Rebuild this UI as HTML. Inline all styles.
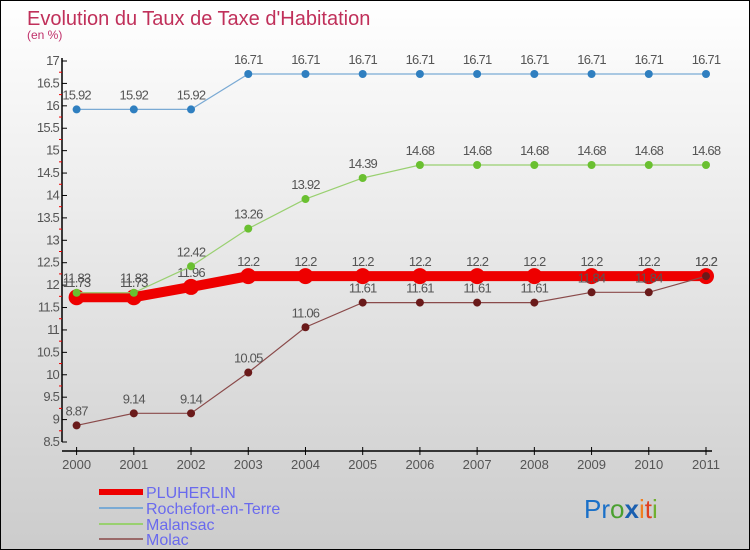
<!DOCTYPE html>
<html><head><meta charset="utf-8"><style>
html,body{margin:0;padding:0;}
body{width:750px;height:550px;overflow:hidden;font-family:"Liberation Sans",sans-serif;}
#wrap{position:relative;width:748px;height:548px;border:1px solid #000;background:linear-gradient(#fff,#ccc);}
</style></head><body>
<div id="wrap">
<svg id="chart" width="748" height="548" style="position:absolute;left:0;top:0">
<text x="26" y="24" font-size="20" fill="#c0305a">Evolution du Taux de Taxe d'Habitation</text>
<text x="26" y="38" font-size="12" fill="#c0306a">(en %)</text>
<g id="axes"></g><g id="series"></g>
<g>
<line x1="98" y1="491" x2="142" y2="491" stroke="#e00" stroke-width="6"/>
<text x="145" y="497" font-size="16" fill="#6a6aee">PLUHERLIN</text>
<line x1="98" y1="507" x2="142" y2="507" stroke="#7aaad4" stroke-width="2"/>
<text x="145" y="513" font-size="16" fill="#6a6aee">Rochefort-en-Terre</text>
<line x1="98" y1="523" x2="142" y2="523" stroke="#99d070" stroke-width="2"/>
<text x="145" y="529" font-size="16" fill="#6a6aee">Malansac</text>
<line x1="98" y1="538" x2="142" y2="538" stroke="#9a6a6a" stroke-width="2"/>
<text x="145" y="544" font-size="16" fill="#6a6aee">Molac</text>
</g>
<text x="583" y="517" font-size="26"><tspan fill="#1a70c8">Pr</tspan><tspan fill="#4aa030">o</tspan><tspan fill="#1a5fb0" font-weight="bold">x</tspan><tspan fill="#f08020">i</tspan><tspan fill="#e04020">t</tspan><tspan fill="#70b030">i</tspan></text>
</svg>
</div>
<script>
const years=[2000,2001,2002,2003,2004,2005,2006,2007,2008,2009,2010,2011];
const yTicks=[8.5,9,9.5,10,10.5,11,11.5,12,12.5,13,13.5,14,14.5,15,15.5,16,16.5,17];
const pluherlin=[11.73,11.73,11.96,12.2,12.2,12.2,12.2,12.2,12.2,12.2,12.2,12.2];
const rochefort=[15.92,15.92,15.92,16.71,16.71,16.71,16.71,16.71,16.71,16.71,16.71,16.71];
const malansac=[11.83,11.83,12.42,13.26,13.92,14.39,14.68,14.68,14.68,14.68,14.68,14.68];
const molac=[8.87,9.14,9.14,10.05,11.06,11.61,11.61,11.61,11.61,11.84,11.84,12.2];
const NS="http://www.w3.org/2000/svg";
const xS=i=>75.6+i*(705-75.6)/(years.length-1);
const yS=v=>60+(17-v)*(381/8.5);
function mk(tag,attrs,parent){const e=document.createElementNS(NS,tag);for(const k in attrs)e.setAttribute(k,attrs[k]);parent.appendChild(e);return e;}
const axes=document.getElementById('axes'),ser=document.getElementById('series');
let a=mk('line',{x1:61,y1:57,x2:61,y2:441,stroke:'#000','stroke-width':1.5},axes);

a=mk('line',{x1:61,y1:450,x2:711,y2:450,stroke:'#000','stroke-width':1.5},axes);

yTicks.forEach(v=>{
 mk('line',{x1:61,y1:yS(v),x2:66,y2:yS(v),stroke:'#000'},axes);
 if(v<17)mk('line',{x1:58,y1:yS(v+0.25),x2:61,y2:yS(v+0.25),stroke:'#e00'},axes);
 const t=mk('text',{x:58,y:yS(v)+4,'font-size':13,fill:'#555','text-anchor':'end','letter-spacing':'-0.8'},axes);
 t.textContent=String(v);
 
});
years.forEach((y,i)=>{
 mk('line',{x1:xS(i),y1:446,x2:xS(i),y2:454,stroke:'#000'},axes);
 const t=mk('text',{x:xS(i),y:468,'font-size':13,fill:'#555','text-anchor':'middle'},axes);
 t.textContent=String(y);
 
});
function draw(vals,name,color,dot,w,r){
 const g=mk('g',{},ser);
 
 const p=mk('polyline',{points:vals.map((v,i)=>xS(i)+','+yS(v)).join(' '),fill:'none',stroke:color,'stroke-width':w},g);
 
 vals.forEach((v,i)=>{
  const c=mk('circle',{cx:xS(i),cy:yS(v),r:r,fill:dot},g);
  
  const t=mk('text',{x:xS(i),y:yS(v)-10,'font-size':13,fill:'#555','text-anchor':'middle','letter-spacing':'-0.8'},g);
  t.textContent=String(v);
  
 });
}
draw(rochefort,'rochefort','#7aaad4','#2f7fc0',1.2,4);
draw(pluherlin,'pluherlin','#ee0000','#ee0000',10,8);
draw(malansac,'malansac','#99d070','#6ac030',1.2,4);
draw(molac,'molac','#8a4a4a','#6a1a1a',1.2,4);
</script>
</body></html>
